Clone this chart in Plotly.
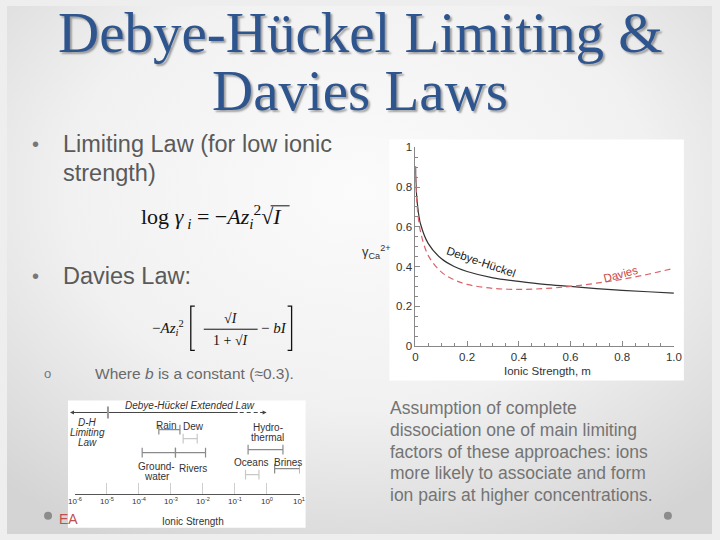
import base64
import plotly.graph_objects as go

# ---------------- data ----------------
ionic_strength = [0.0005, 0.001, 0.002, 0.005, 0.01, 0.02, 0.05, 0.1, 0.15, 0.2,
                  0.3, 0.4, 0.5, 0.6, 0.7, 0.8, 0.9, 1.0]
gamma_debye_huckel = [0.905, 0.87, 0.828, 0.755, 0.69, 0.614, 0.515, 0.44, 0.40, 0.375,
                      0.343, 0.325, 0.31, 0.30, 0.289, 0.28, 0.273, 0.266]
gamma_davies = [0.904, 0.867, 0.82, 0.739, 0.662, 0.575, 0.455, 0.373, 0.333, 0.31,
                0.29, 0.285, 0.289, 0.30, 0.316, 0.336, 0.361, 0.391]

main_x_ticks = [0, 0.2, 0.4, 0.6, 0.8, 1.0]
main_x_labels = ["0", "0.2", "0.4", "0.6", "0.8", "1.0"]
main_y_ticks = [0, 0.2, 0.4, 0.6, 0.8, 1.0]
main_y_labels = ["0", "0.2", "0.4", "0.6", "0.8", "1"]

env_names = ["Rain", "Dew", "Groundwater", "Rivers", "Hydrothermal", "Oceans", "Brines"]
env_log_min = [-3.38, -2.62, -3.9, -2.86, -0.59, -0.67, 0.24]
env_log_max = [-2.72, -2.18, -2.86, -1.92, 0.5, -0.25, 1.02]

decade_exponents = [-6, -5, -4, -3, -2, -1, 0, 1]
decade_labels = ["10<sup>-6</sup>", "10<sup>-5</sup>", "10<sup>-4</sup>", "10<sup>-3</sup>",
                 "10<sup>-2</sup>", "10<sup>-1</sup>", "10<sup>0</sup>", "10<sup>1</sup>"]

# ---------------- layout helpers (slide pixel -> paper) ----------------
W, H = 720, 540
# the photographed page shows the figure with a thin border; map slide pixels accordingly
OX, SX = 6.87, 706.3
OY, SY = 6.82, 526.3
def px(x):
    return (x - OX) / SX
def py(y):
    return 1 - (y - OY) / SY

SANS = "Liberation Sans, Arial, sans-serif"
SERIF = "Liberation Serif, Times New Roman, serif"

# row levels (slide pixel y) for the environment bars in the small diagram
env_levels = {"Rain": 429, "Dew": 438, "Groundwater": 452, "Rivers": 452,
              "Hydrothermal": 449, "Oceans": 474, "Brines": 468}
env_colors = {"Rain": "#8a8a8a", "Dew": "#c8c8c8", "Groundwater": "#8a8a8a",
              "Rivers": "#8a8a8a", "Hydrothermal": "#8a8a8a", "Oceans": "#c8c8c8",
              "Brines": "#8a8a8a"}

fig = go.Figure()

# main chart curves
fig.add_trace(go.Scatter(x=ionic_strength, y=gamma_debye_huckel, mode="lines",
                         line=dict(color="#333333", width=1.2, shape="spline"),
                         xaxis="x", yaxis="y", showlegend=False, hoverinfo="skip"))
fig.add_trace(go.Scatter(x=ionic_strength, y=gamma_davies, mode="lines",
                         line=dict(color="#d9646a", width=1.2, dash="6px,4px", shape="spline"),
                         xaxis="x", yaxis="y", showlegend=False, hoverinfo="skip"))

# small ionic-strength diagram
for name, lo, hi in zip(env_names, env_log_min, env_log_max):
    lvl = env_levels[name]
    c = env_colors[name]
    fig.add_trace(go.Scatter(x=[10 ** lo, 10 ** hi], y=[lvl, lvl], mode="lines+markers",
                             line=dict(color=c, width=1.2),
                             marker=dict(symbol="line-ns-open", size=7, color=c,
                                         line=dict(color=c, width=1.2)),
                             xaxis="x2", yaxis="y2", showlegend=False, hoverinfo="skip"))

# background gradient (SVG data URI)
svg = ('<svg xmlns="http://www.w3.org/2000/svg" width="720" height="540" '
       'preserveAspectRatio="none" viewBox="0 0 720 540">'
       '<defs><radialGradient id="g" cx="0.5" cy="0.35" r="0.75">'
       '<stop offset="0" stop-color="#fbfbfb"/><stop offset="0.55" stop-color="#f1f1f1"/>'
       '<stop offset="1" stop-color="#d4d4d4"/></radialGradient></defs>'
       '<rect width="720" height="540" fill="url(#g)"/></svg>')
bg_src = "data:image/svg+xml;base64," + base64.b64encode(svg.encode()).decode()

shapes = []
# white panels
shapes.append(dict(type="rect", xref="paper", yref="paper", x0=px(390), x1=px(685),
                   y0=py(380), y1=py(140), fillcolor="white", line=dict(width=0), layer="below"))
shapes.append(dict(type="rect", xref="paper", yref="paper", x0=px(68), x1=px(306),
                   y0=py(527), y1=py(400), fillcolor="white", line=dict(width=0), layer="below"))
# footer dots
for cx in (48, 669):
    shapes.append(dict(type="circle", xref="paper", yref="paper", x0=px(cx - 4), x1=px(cx + 4),
                       y0=py(519), y1=py(511), fillcolor="#8c8c8c", line=dict(width=0)))
# Davies-equation brackets and fraction bar
shapes.append(dict(type="path", xref="paper", yref="paper",
                   path=f"M {px(195)} {py(306)} L {px(191)} {py(306)} L {px(191)} {py(350)} L {px(195)} {py(350)}",
                   line=dict(color="#111", width=1.3)))
shapes.append(dict(type="path", xref="paper", yref="paper",
                   path=f"M {px(288)} {py(306)} L {px(292)} {py(306)} L {px(292)} {py(350)} L {px(288)} {py(350)}",
                   line=dict(color="#111", width=1.3)))
shapes.append(dict(type="line", xref="paper", yref="paper", x0=px(204), x1=px(258),
                   y0=py(329), y1=py(329), line=dict(color="#111", width=1)))
# sqrt overline in limiting law
shapes.append(dict(type="line", xref="paper", yref="paper", x0=px(271), x1=px(290),
                   y0=py(206), y1=py(206), line=dict(color="#111", width=1)))
# Debye-Huckel extended law arrow (diagram)
shapes.append(dict(type="line", xref="paper", yref="paper", x0=px(72), x1=px(238),
                   y0=py(412), y1=py(412), line=dict(color="#444", width=1)))
shapes.append(dict(type="line", xref="paper", yref="paper", x0=px(240), x1=px(264),
                   y0=py(412), y1=py(412), line=dict(color="#444", width=1, dash="4px,3px")))
shapes.append(dict(type="line", xref="paper", yref="paper", x0=px(108), x1=px(108),
                   y0=py(418), y1=py(406), line=dict(color="#999", width=2)))

annotations = []
def txt(x, y, text, size, color="#555", font=SANS, xanchor="center", yanchor="middle", angle=0, shadow=None):
    f = dict(family=font, size=size, color=color)
    if shadow:
        f["shadow"] = shadow
    annotations.append(dict(xref="paper", yref="paper", x=px(x), y=py(y), text=text,
                            showarrow=False, font=f, xanchor=xanchor, yanchor=yanchor,
                            textangle=angle))

# title
TITLE_C = "#2f558f"
txt(361, 33, "Debye-Hückel Limiting &", 57, TITLE_C, SERIF, shadow="2px 2px 2px rgba(0,0,0,0.35)")
txt(361, 91, "Davies Laws", 57, TITLE_C, SERIF, shadow="2px 2px 2px rgba(0,0,0,0.35)")

# bullets
txt(35, 144, "•", 20, "#777")
txt(61, 144, "Limiting Law (for low ionic", 23.5, "#5a5a5a", xanchor="left")
txt(61, 173, "strength)", 23.5, "#5a5a5a", xanchor="left")
txt(35, 276, "•", 20, "#777")
txt(61, 276, "Davies Law:", 23.5, "#5a5a5a", xanchor="left")
txt(47, 373, "o", 13, "#777")
txt(93, 373, "Where <i>b</i> is a constant (≈0.3).", 15.5, "#6a6a6a", xanchor="left")

# limiting law equation
txt(139, 217, "log <i>γ</i><sub> <i>i</i></sub> = −<i>Az</i><sub><i>i</i></sub><sup>2</sup>√<i>I</i>",
    22, "#111", SERIF, xanchor="left")

# Davies equation
txt(186, 328, "−<i>Az</i><sub><i>i</i></sub><sup>2</sup>", 15, "#111", SERIF, xanchor="right")
txt(231, 318, "√<i>I</i>", 14, "#111", SERIF)
txt(231, 340, "1 + √<i>I</i>", 14, "#111", SERIF)
txt(274, 328, "− <i>bI</i>", 15, "#111", SERIF)

# right text block
right_lines = ["Assumption of complete", "dissociation one of main limiting",
               "factors of these approaches: ions", "more likely to associate and form",
               "ion pairs at higher concentrations."]
for i, line in enumerate(right_lines):
    txt(389, 408 + i * 21.5, line, 17.5, "#747474", xanchor="left")

# main chart labels
txt(377, 252, "γ<sub>Ca</sub><sup>2+</sup>", 13, "#333", SANS)
txt(548, 371, "Ionic Strength, m", 11.5, "#333")
txt(482, 262, "Debye-Hückel", 11.5, "#222", angle=19)
txt(622, 274, "Davies", 11.5, "#cc4a4a", angle=-15)

# diagram labels
txt(190, 405, "<i>Debye-Hückel Extended Law</i>", 10, "#333")
txt(88, 422, "<i>D-H</i>", 10, "#333")
txt(88, 432, "<i>Limiting</i>", 10, "#333")
txt(88, 442, "<i>Law</i>", 10, "#333")
txt(167, 425, "Rain", 10, "#333")
txt(194, 426, "Dew", 10, "#333")
txt(268, 427, "Hydro-", 10, "#333")
txt(268, 437, "thermal", 10, "#333")
txt(157, 466, "Ground-", 10, "#333")
txt(157, 476, "water", 10, "#333")
txt(193, 468, "Rivers", 10, "#333")
txt(251, 462, "Oceans", 10, "#333")
txt(288, 462, "Brines", 10, "#333")
txt(193, 521, "Ionic Strength", 10, "#333")

# arrowheads
annotations.append(dict(xref="paper", yref="paper", x=px(70), y=py(412), ax=12, ay=0,
                        text="", showarrow=True, arrowhead=2, arrowsize=0.8, arrowwidth=1,
                        arrowcolor="#444"))
annotations.append(dict(xref="paper", yref="paper", x=px(267), y=py(412), ax=-8, ay=0,
                        text="", showarrow=True, arrowhead=2, arrowsize=0.8, arrowwidth=1,
                        arrowcolor="#444"))
# footer fragment
txt(57, 518, "EA", 14, "#c0504d", xanchor="left")

fig.update_layout(
    width=W, height=H,
    margin=dict(l=0, r=0, t=0, b=0),
    paper_bgcolor="#eeeeee",
    plot_bgcolor="rgba(0,0,0,0)",
    showlegend=False,
    images=[dict(source=bg_src, xref="paper", yref="paper", x=0, y=1, sizex=1, sizey=1,
                 sizing="stretch", xanchor="left", yanchor="top", layer="below")],
    shapes=shapes,
    annotations=annotations,
    xaxis=dict(domain=[px(416), px(675)], range=[0, 1], anchor="y",
               showline=True, linecolor="#888", linewidth=1, showgrid=False, zeroline=False,
               ticks="inside", ticklen=5, tickcolor="#888",
               tickvals=main_x_ticks, ticktext=main_x_labels,
               tickfont=dict(family=SANS, size=11.5, color="#333"),
               minor=dict(dtick=0.05, ticks="inside", ticklen=3, tickcolor="#888")),
    yaxis=dict(domain=[py(345.7), py(147.7)], range=[0, 1], anchor="x",
               showline=True, linecolor="#888", linewidth=1, showgrid=False, zeroline=False,
               ticks="inside", ticklen=5, tickcolor="#888",
               tickvals=main_y_ticks, ticktext=main_y_labels,
               tickfont=dict(family=SANS, size=11.5, color="#333"),
               minor=dict(dtick=0.05, ticks="inside", ticklen=3, tickcolor="#888")),
    xaxis2=dict(domain=[px(75), px(300)], type="log", range=[-6, 1.02], anchor="y2",
                showline=True, linecolor="#555", linewidth=1, showgrid=False, zeroline=False,
                ticks="inside", ticklen=11, tickcolor="#cfcfcf", tickwidth=1,
                tickvals=[10 ** e for e in decade_exponents], ticktext=decade_labels,
                tickfont=dict(family=SANS, size=8, color="#333")),
    yaxis2=dict(domain=[py(493), py(400)], range=[493, 400], anchor="x2",
                showline=False, showgrid=False, zeroline=False, showticklabels=False,
                ticks=""),
)

fig.write_html("out.html", config={"displayModeBar": False},
               post_script=("document.documentElement.style.margin='0';"
                            "document.documentElement.style.overflow='hidden';"
                            "document.documentElement.style.background='#dcdcdc';"
                            "document.body.style.margin='0';document.body.style.overflow='hidden';"
                            "document.body.style.background='#dcdcdc';"))
